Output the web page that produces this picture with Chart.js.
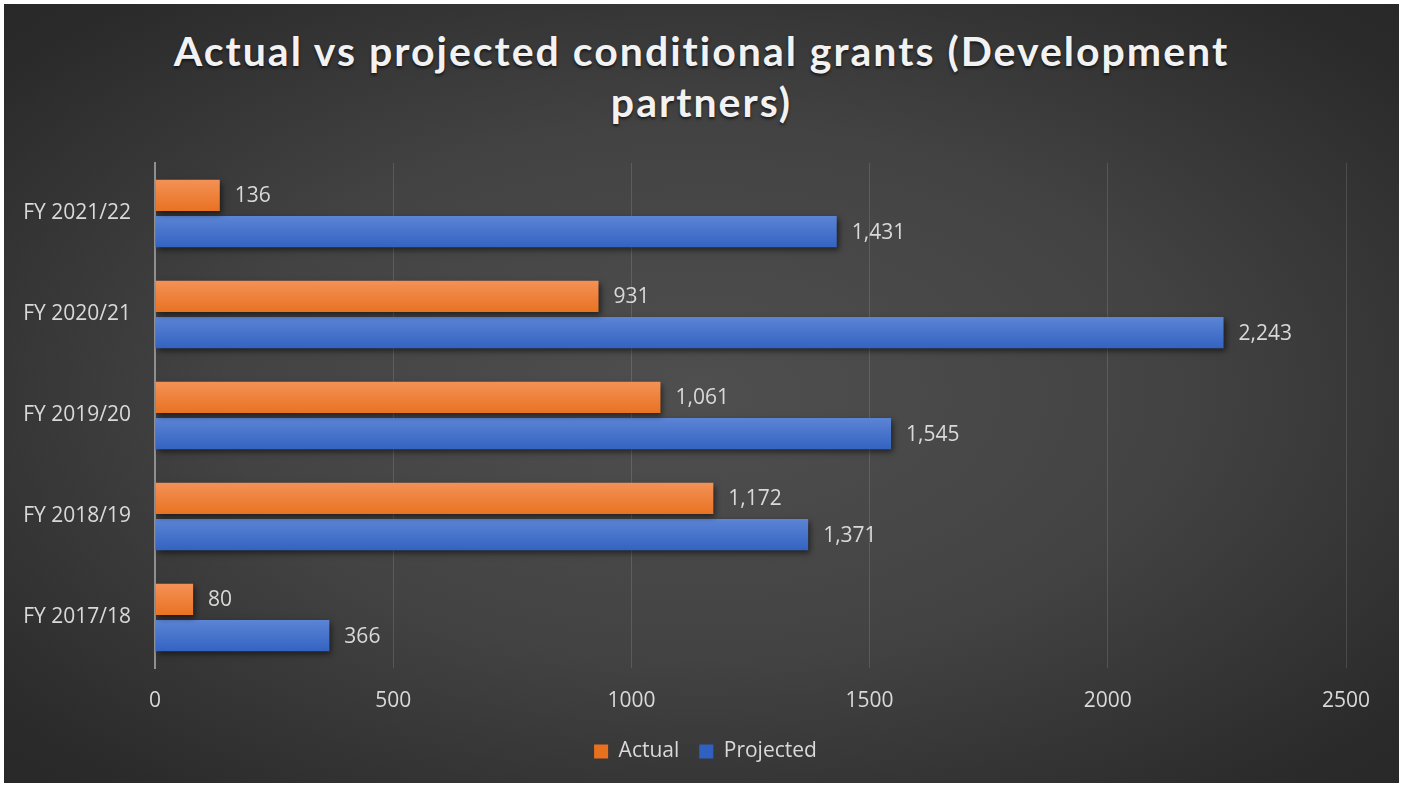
<!DOCTYPE html>
<html>
<head>
<meta charset="utf-8">
<script src="https://cdn.jsdelivr.net/npm/chart.js@4.4.0/dist/chart.umd.min.js"></script>
<style>
    html, body { margin: 0; background: #fff; }
    #frame {
        position: absolute; left: 4px; top: 4px; width: 1395px; height: 779px;
        background: radial-gradient(ellipse 75% 75% at 50% 50%, #4f4f4f 0%, #434343 45%, #2b2b2b 85%, #262626 100%);
    }
    #title {
        position: absolute; left: 0; right: 0; top: 21px; text-align: center;
        font: bold 41px Lato; letter-spacing: 2px; line-height: 51px;
        color: #f2f2f2; text-shadow: 0 2px 3px rgba(0, 0, 0, .6);
    }
    canvas { position: absolute; left: 0; top: 0; }
</style>
</head>
<body>
<div id="frame">
    <div id="title">Actual vs projected conditional grants (Development<br>partners)</div>
    <canvas id="chart" width="1395" height="779"></canvas>
</div>
<script>
    const categories = ['FY 2021/22', 'FY 2020/21', 'FY 2019/20', 'FY 2018/19', 'FY 2017/18'];
    const actual = [136, 931, 1061, 1172, 80];
    const projected = [1431, 2243, 1545, 1371, 366];
    const xTicks = [0, 500, 1000, 1500, 2000, 2500];

    const textColor = '#d9d9d9';
    const font = {family: 'Open Sans', size: 21};
    const catPct = 0.72;

    // vertical gradient per bar, worked out from the category scale
    function barFill(top, bottom, dsIndex) {
        return function (c) {
            const y = c.chart.scales.y;
            if (!y || c.dataIndex === undefined || !y.height) return bottom;
            const cat = y.getPixelForValue(c.dataIndex);
            const half = (y.height / categories.length) * catPct / 2;
            if (!isFinite(cat) || !isFinite(half)) return bottom;
            const y0 = dsIndex === 0 ? cat - half : cat;
            const g = c.chart.ctx.createLinearGradient(0, y0, 0, y0 + half);
            g.addColorStop(0, top);
            g.addColorStop(1, bottom);
            return g;
        };
    }

    const barShadow = {
        id: 'barShadow',
        beforeDatasetsDraw(chart) {
            const ctx = chart.ctx;
            ctx.save();
            ctx.shadowColor = 'rgba(0,0,0,0.55)';
            ctx.shadowBlur = 6;
            ctx.shadowOffsetX = 2;
            ctx.shadowOffsetY = 3;
        },
        afterDatasetsDraw(chart) {
            chart.ctx.restore();
        }
    };

    const valueLabels = {
        id: 'valueLabels',
        afterDatasetsDraw(chart) {
            const ctx = chart.ctx;
            ctx.save();
            ctx.font = font.size + 'px "' + font.family + '"';
            ctx.fillStyle = textColor;
            ctx.textAlign = 'left';
            ctx.textBaseline = 'middle';
            chart.data.datasets.forEach(function (ds, i) {
                chart.getDatasetMeta(i).data.forEach(function (bar, j) {
                    ctx.fillText(ds.data[j].toLocaleString('en-US'), bar.x + 15, bar.y + 1);
                });
            });
            ctx.restore();
        }
    };

    // legend sits centred on the frame, not on the padded box
    const legendShift = {
        id: 'legendShift',
        afterLayout(chart) {
            if (chart.legend) chart.legend.left = 61;
        }
    };

    new Chart(document.getElementById('chart').getContext('2d'), {
        type: 'bar',
        data: {
            labels: categories,
            datasets: [
                {
                    label: 'Actual', data: actual,
                    backgroundColor: barFill('#f4945a', '#e8701e', 0),
                    categoryPercentage: catPct, barPercentage: 0.86
                },
                {
                    label: 'Projected', data: projected,
                    backgroundColor: barFill('#5f87d6', '#3060c0', 1),
                    categoryPercentage: catPct, barPercentage: 0.86
                }
            ]
        },
        options: {
            indexAxis: 'y',
            responsive: false,
            animation: false,
            layout: {padding: {top: 159, right: 53, bottom: 11, left: 0}},
            plugins: {
                title: {display: false},
                tooltip: {enabled: false},
                legend: {
                    position: 'bottom',
                    labels: {color: textColor, font: font, boxWidth: 14, boxHeight: 14, padding: 20}
                }
            },
            scales: {
                x: {
                    min: xTicks[0],
                    max: xTicks[xTicks.length - 1],
                    ticks: {
                        stepSize: xTicks[1] - xTicks[0], color: textColor, font: font, padding: 20,
                        callback: function (v) { return String(v); }
                    },
                    grid: {color: 'rgba(255,255,255,0.13)', drawTicks: false},
                    border: {display: false},
                    afterFit: function (s) { s.height = 53; }
                },
                y: {
                    ticks: {color: textColor, font: font, padding: 24},
                    grid: {display: false, drawTicks: false},
                    border: {display: true, color: '#8f8f8f', width: 2},
                    afterFit: function (s) { s.width = 151; }
                }
            }
        },
        plugins: [barShadow, valueLabels, legendShift]
    });
</script>
</body>
</html>
